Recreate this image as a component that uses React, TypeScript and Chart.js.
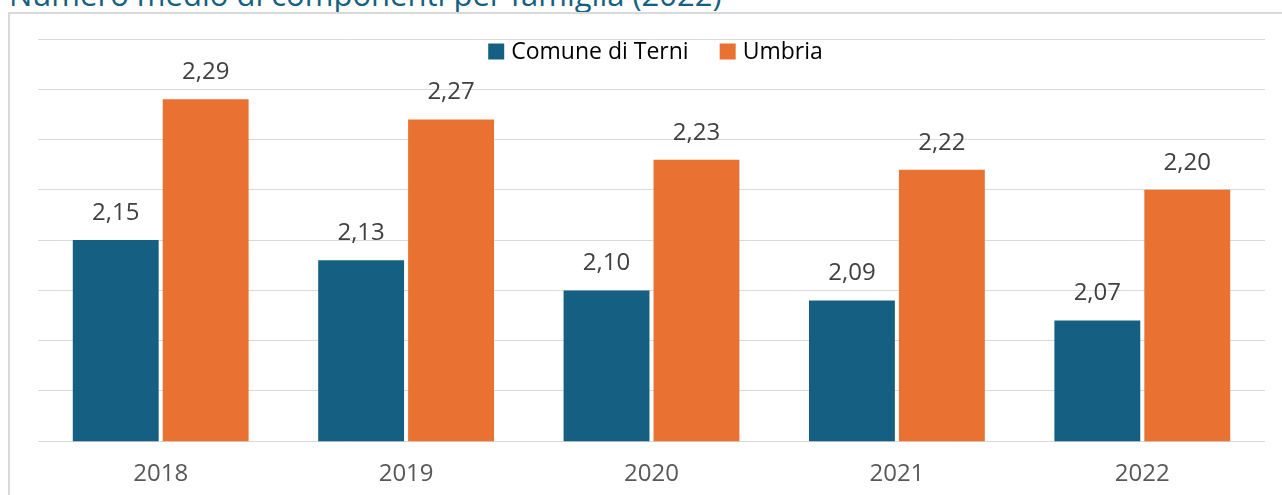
import React, { useEffect, useRef } from "react";
import { Chart, registerables } from "chart.js";

Chart.register(...registerables);

const categories = ["2018", "2019", "2020", "2021", "2022"];
const terniValues = [2.15, 2.13, 2.1, 2.09, 2.07];
const umbriaValues = [2.29, 2.27, 2.23, 2.22, 2.2];
const seriesNames = ["Comune di Terni", "Umbria"];
const seriesColors = ["#156082", "#E97132"];
const titleText = "Numero medio di componenti per famiglia (2022)";

const FONT = "'Open Sans', sans-serif";

const labelPlugin = {
  id: "valueLabels",
  afterDatasetsDraw(chart: any) {
    const ctx = chart.ctx;
    ctx.save();
    ctx.font = `24px ${FONT}`;
    ctx.fillStyle = "#404040";
    ctx.textAlign = "center";
    ctx.textBaseline = "middle";
    chart.data.datasets.forEach((ds: any, i: number) => {
      const meta = chart.getDatasetMeta(i);
      meta.data.forEach((bar: any, j: number) => {
        const v = ds.data[j] as number;
        ctx.fillText(v.toFixed(2).replace(".", ","), bar.x, bar.y - 27);
      });
    });
    ctx.restore();
  },
};

const legendPlugin = {
  id: "innerLegend",
  afterDraw(chart: any) {
    const ctx = chart.ctx;
    ctx.save();
    ctx.font = `23px ${FONT}`;
    ctx.textBaseline = "middle";
    ctx.textAlign = "left";
    const box = 16;
    const gapBoxText = 7;
    const gapItems = 31;
    const items = chart.data.datasets.map((ds: any) => ({
      label: ds.label,
      color: ds.backgroundColor,
      w: box + gapBoxText + ctx.measureText(ds.label).width,
    }));
    const total = items.reduce((s: number, it: any) => s + it.w, 0) + gapItems * (items.length - 1);
    const cx = (chart.chartArea.left + chart.chartArea.right) / 2 + 4;
    let x = cx - total / 2;
    const y = 51.5;
    items.forEach((it: any) => {
      ctx.fillStyle = it.color;
      ctx.fillRect(x, y - box / 2, box, box);
      ctx.fillStyle = "#000000";
      ctx.fillText(it.label, x + box + gapBoxText, y + 1);
      x += it.w + gapItems;
    });
    ctx.restore();
  },
};

export default function App() {
  const canvasRef = useRef<HTMLCanvasElement | null>(null);

  useEffect(() => {
    document.body.style.margin = "0";
    const chart = new Chart(canvasRef.current as HTMLCanvasElement, {
      type: "bar",
      data: {
        labels: categories,
        datasets: [
          {
            label: seriesNames[0],
            data: terniValues,
            backgroundColor: seriesColors[0],
            categoryPercentage: 0.733,
            barPercentage: 0.955,
          },
          {
            label: seriesNames[1],
            data: umbriaValues,
            backgroundColor: seriesColors[1],
            categoryPercentage: 0.733,
            barPercentage: 0.955,
          },
        ],
      },
      options: {
        animation: false,
        responsive: false,
        maintainAspectRatio: false,
        layout: { padding: { left: 38, right: 17, top: 39, bottom: -13 } },
        plugins: {
          legend: { display: false },
          title: { display: false },
          tooltip: { enabled: false },
        },
        scales: {
          x: {
            grid: { display: false, drawTicks: false },
            border: { display: false },
            ticks: {
              color: "#595959",
              font: { family: FONT, size: 24 },
              padding: 19,
            },
          },
          y: {
            min: 1.95,
            max: 2.35,
            grid: { color: "#d9d9d9", lineWidth: 1, drawTicks: false },
            border: { display: false },
            ticks: { display: false, stepSize: 0.05 },
          },
        },
      },
      plugins: [labelPlugin, legendPlugin],
    });
    return () => chart.destroy();
  }, []);

  return (
    <div style={{ position: "relative", width: 1282, height: 495, overflow: "hidden", background: "#fff" }}>
      <div
        style={{
          position: "absolute",
          left: 9,
          top: -27,
          fontFamily: FONT,
          fontSize: 31,
          color: "#156082",
          whiteSpace: "nowrap",
        }}
      >
        {titleText}
      </div>
      <div
        style={{
          position: "absolute",
          left: 8,
          top: 12,
          width: 1290,
          height: 500,
          border: "2px solid #d9d9d9",
        }}
      />
      <canvas
        ref={canvasRef}
        width={1282}
        height={495}
        style={{ position: "absolute", left: 0, top: 0, width: 1282, height: 495 }}
      />
    </div>
  );
}
